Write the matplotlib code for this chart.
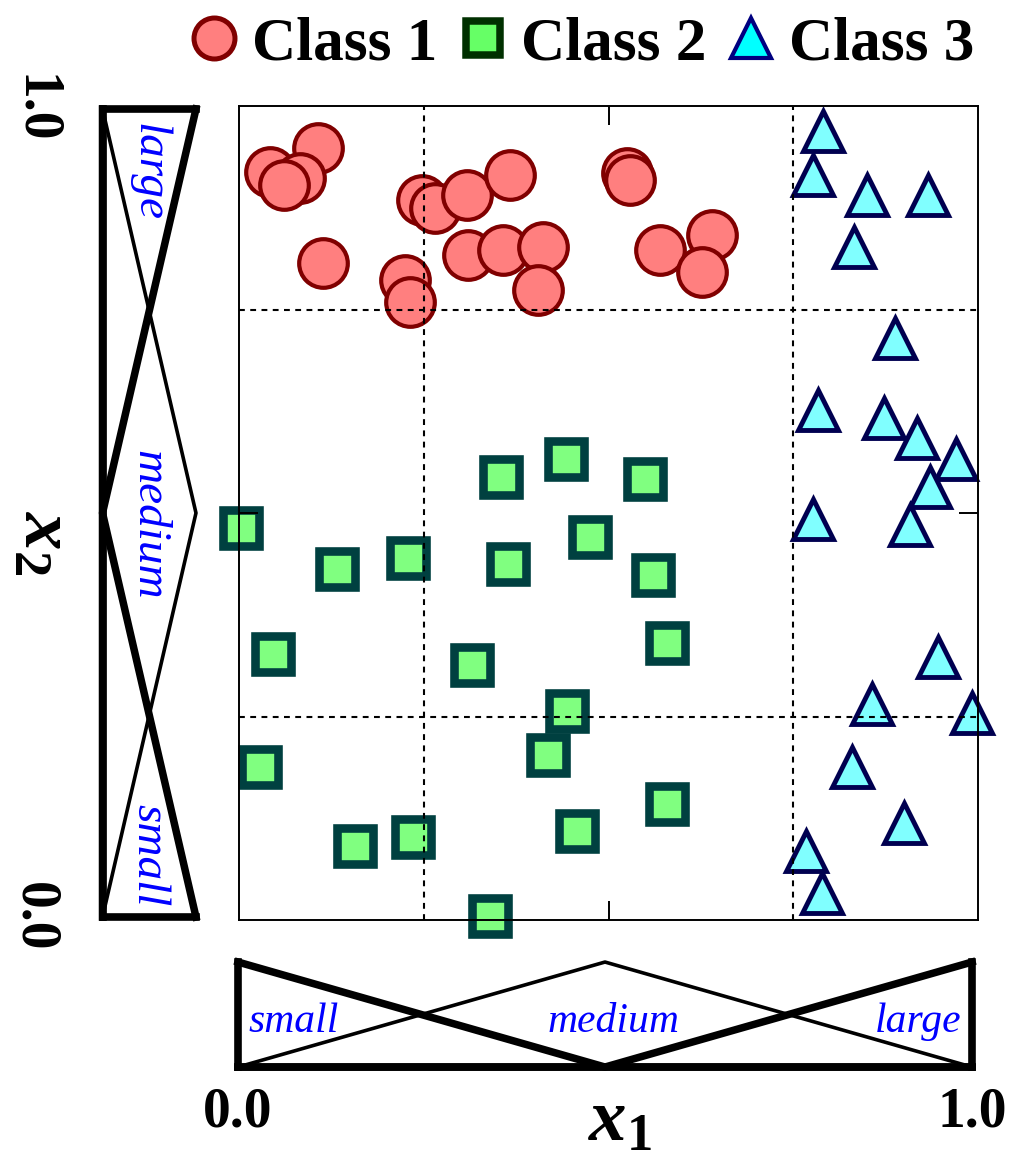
##### LIBRARIES ########################
import matplotlib
matplotlib.use('Agg')
import matplotlib.pyplot as plt
from matplotlib.lines import Line2D

plt.rcParams['font.family'] = 'Liberation Serif'
plt.rcParams['mathtext.fontset'] = 'custom'
plt.rcParams['mathtext.it'] = 'Liberation Serif:italic:bold'
plt.rcParams['mathtext.rm'] = 'Liberation Serif:bold'
plt.rcParams['mathtext.bf'] = 'Liberation Serif:bold'


##### DATA #####
# Class 1 (circles)
c1_x = [0.107, 0.042, 0.083, 0.061, 0.114, 0.248, 0.265, 0.309, 0.367, 0.310,
        0.357, 0.411, 0.405, 0.225, 0.231, 0.525, 0.529, 0.570, 0.640, 0.627]
c1_y = [0.948, 0.919, 0.912, 0.903, 0.807, 0.885, 0.875, 0.891, 0.915, 0.817,
        0.823, 0.827, 0.774, 0.786, 0.759, 0.918, 0.909, 0.823, 0.842, 0.796]

# Class 2 (squares)
c2_x = [0.003, 0.133, 0.229, 0.355, 0.442, 0.549, 0.475, 0.364, 0.560, 0.046,
        0.315, 0.579, 0.444, 0.418, 0.028, 0.579, 0.457, 0.157, 0.235, 0.340]
c2_y = [0.482, 0.431, 0.445, 0.544, 0.566, 0.542, 0.471, 0.437, 0.424, 0.327,
        0.313, 0.340, 0.257, 0.203, 0.188, 0.143, 0.109, 0.091, 0.102, 0.005]

# Class 3 (triangles)
c3_x = [0.790, 0.777, 0.850, 0.932, 0.832, 0.888, 0.783, 0.873, 0.917, 0.970,
        0.935, 0.908, 0.777, 0.946, 0.857, 0.992, 0.830, 0.900, 0.767, 0.789]
c3_y = [0.969, 0.915, 0.891, 0.891, 0.827, 0.715, 0.627, 0.617, 0.592, 0.566,
        0.532, 0.485, 0.493, 0.323, 0.265, 0.254, 0.188, 0.119, 0.085, 0.033]

class_names = ["Class 1", "Class 2", "Class 3"]

# triangular membership functions (small / medium / large)
mf_pts    = [0.0, 0.5, 1.0]
mf_small  = [1.0, 0.0, 0.0]
mf_medium = [0.0, 1.0, 0.0]
mf_large  = [0.0, 0.0, 1.0]
mf_names  = ["small", "medium", "large"]

tick_labels = ["0.0", "1.0"]


##### FIGURE #####
fig = plt.figure(figsize=(10.25, 11.63), dpi=100)

## main scatter plot
ax = fig.add_axes([0.2332, 0.2089, 0.7210, 0.6999])
ax.set_xlim(0, 1)
ax.set_ylim(0, 1)
ax.set_xticks([0.5])
ax.set_yticks([0.5])
ax.set_xticks([0.25, 0.75], minor=True)
ax.set_yticks([0.25, 0.75], minor=True)
ax.tick_params(which='major', direction='in', length=14, width=1.4,
               top=True, right=True, labelbottom=False, labelleft=False)
ax.tick_params(which='minor', length=0)
ax.grid(which='minor', color='black', linestyle=(0, (2.8, 2.6)), linewidth=1.5)
ax.set_axisbelow(False)
for s in ax.spines.values():
    s.set_linewidth(1.4)

ax.plot(c1_x, c1_y, 'o', ms=35, mfc='#ff7f7f', mec='#800000', mew=3.0, clip_on=False)
ax.plot(c2_x, c2_y, 's', ms=26, mfc='#80ff80', mec='#004040', mew=6.2, clip_on=False)
ax.plot(c3_x, c3_y, '^', ms=29, mfc='#80ffff', mec='#000050', mew=3.5, clip_on=False)

## membership functions of x2 (left)
axl = fig.add_axes([0.1000, 0.2115, 0.0912, 0.6948])
axl.set_xlim(0, 1)
axl.set_ylim(0, 1)
axl.plot(mf_small, mf_pts, '-', color='black', lw=5.4, clip_on=False)
axl.plot(mf_medium, mf_pts, '-', color='black', lw=2.6, clip_on=False)
axl.plot(mf_large, mf_pts, '-', color='black', lw=5.4, clip_on=False)
axl.spines['right'].set_visible(False)
for k in ['left', 'top', 'bottom']:
    axl.spines[k].set_linewidth(5.5)
axl.set_xticks([])
axl.set_yticks([0, 1])
axl.set_yticklabels(tick_labels, rotation=270, va='center', fontsize=40, fontweight='bold')
axl.tick_params(axis='y', length=0, pad=30)
for name, yp in zip(mf_names, [0.077, 0.485, 0.922]):
    axl.text(0.49, yp, name, rotation=270, ha='center', va='center', color='#0000ff',
             style='italic', fontsize=34)

## membership functions of x1 (bottom)
axb = fig.add_axes([0.2322, 0.0825, 0.7161, 0.0903])
axb.set_xlim(0, 1)
axb.set_ylim(0, 1)
axb.plot(mf_pts, mf_small, '-', color='black', lw=5.4, clip_on=False)
axb.plot(mf_pts, mf_medium, '-', color='black', lw=2.6, clip_on=False)
axb.plot(mf_pts, mf_large, '-', color='black', lw=5.4, clip_on=False)
axb.spines['top'].set_visible(False)
for k in ['left', 'right', 'bottom']:
    axb.spines[k].set_linewidth(5.5)
axb.set_yticks([])
axb.set_xticks([0, 1])
axb.set_xticklabels(tick_labels, fontsize=40, fontweight='bold')
axb.tick_params(axis='x', length=0, pad=14)
for name, xp in zip(mf_names, [0.076, 0.512, 0.926]):
    axb.text(xp, 0.43, name, ha='center', va='center', color='#0000ff',
             style='italic', fontsize=30)

## axis labels
fig.text(0.041, 0.533, r'$x_2$', rotation=270, ha='center', va='center', fontsize=54)
fig.text(0.605, 0.034, r'$x_1$', ha='center', va='center', fontsize=54)

## legend
handles = [
    Line2D([], [], ls='none', marker='o', ms=29.5, mfc='#ff7f7f', mec='#800000', mew=3.6),
    Line2D([], [], ls='none', marker='s', ms=24.8, mfc='#66ff66', mec='#003000', mew=5.4),
    Line2D([], [], ls='none', marker='^', ms=29, mfc='#00ffff', mec='#000080', mew=3.0),
]
fig.legend(handles, class_names, loc='center', bbox_to_anchor=(0.568, 0.962), ncol=3,
           frameon=False, prop={'size': 44, 'weight': 'bold'},
           handlelength=0.8, handletextpad=0.22, columnspacing=0.34, borderpad=0.0)

### Finish figure
plt.savefig('out.png', dpi=100)
plt.close()
